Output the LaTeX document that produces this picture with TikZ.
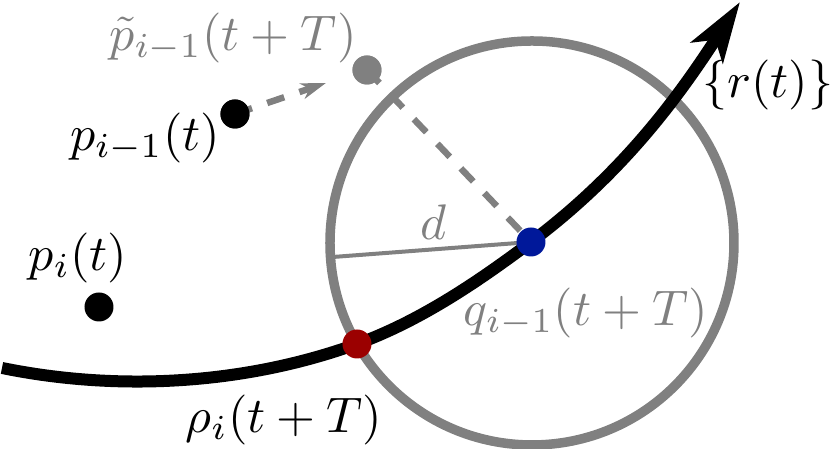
\documentclass[tikz,border=0pt]{standalone}
\usetikzlibrary{arrows.meta}
\definecolor{dgray}{RGB}{128,128,128}
\definecolor{dred}{RGB}{155,0,0}
\definecolor{dblue}{RGB}{0,24,154}
\begin{document}
\begin{tikzpicture}[x=0.2pt,y=-0.2pt,
  dot/.style={circle,fill,inner sep=0pt,minimum size=5.8pt},
  lbl/.style={inner sep=0pt,font=\fontsize{10.2}{12}\selectfont},
  dsh/.style={dgray,line width=1.3pt,dash pattern=on 3.6pt off 3.2pt}]
\useasboundingbox (0,0) rectangle (833,449);
\coordinate (c) at (532,243);
\draw[dgray,line width=1.9pt] (c) circle[radius=40.4pt];
\draw[line width=2.4pt,-{Stealth[length=12pt,width=7.5pt,inset=3pt]}]
  (2,368) .. controls (118.6,391.8) and (245,384.5) .. (357,344)
          .. controls (420,321) and (477.4,282.2) .. (531,242)
          .. controls (627,170) and (682,91) .. (740,2);
\node[dot,black] (pim) at (235,114) {};
\node[dot,black] (pi) at (99,307) {};
\node[dot,dgray] (pt) at (367,70) {};
\coordinate (dl) at (333,257);
\coordinate (pa) at (326,83);
\draw[dgray,line width=0.8pt] (dl) -- (531,242);
\draw[dsh,-{Stealth[length=5pt,width=3.2pt,inset=1.5pt]}] (pim.center) -- (pa);
\draw[dsh] (pt.center) -- (531,242);
\node[dot,black] at (pim) {};
\node[dot,dgray] at (pt) {};
\node[dot,dred] (rho) at (357,344) {};
\node[dot,dblue] (q) at (531,242) {};
\node[lbl,dgray] (lpt) at (233,38) {$\tilde{p}_{i-1}(t+T)$};
\node[lbl] (lpim) at (145,138) {$p_{i-1}(t)$};
\node[lbl] (lpi) at (78,258) {$p_i(t)$};
\node[lbl] (lr) at (768,85) {$\{r(t)\}$};
\node[lbl,dgray] (ld) at (434,222) {$d$};
\node[lbl,dgray] (lq) at (586,313) {$q_{i-1}(t+T)$};
\node[lbl] (lrho) at (284,420) {$\rho_i(t+T)$};
\end{tikzpicture}
\end{document}
